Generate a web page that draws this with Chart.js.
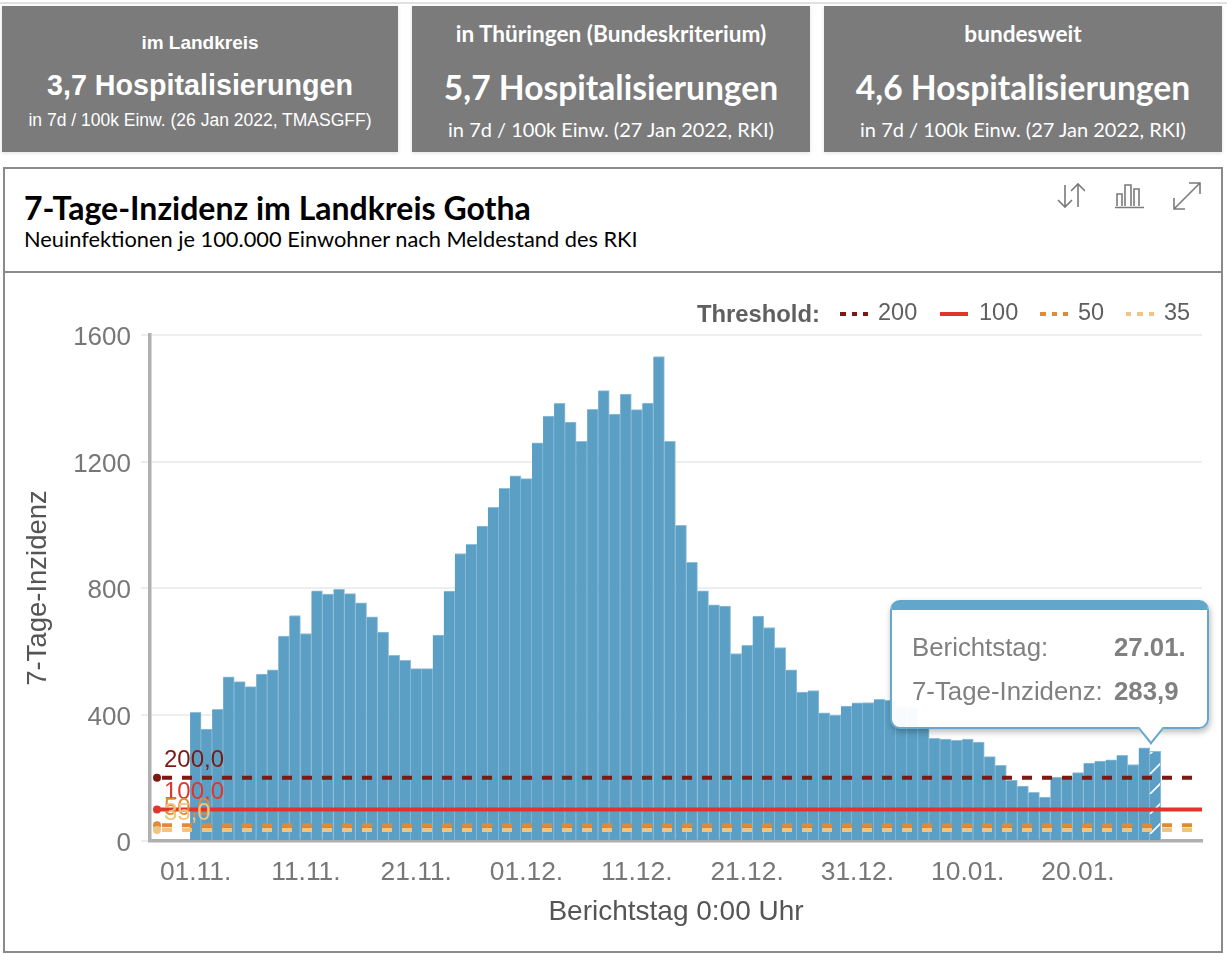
<!DOCTYPE html>
<html lang="de">
<head>
<meta charset="utf-8">
<title>7-Tage-Inzidenz im Landkreis Gotha</title>
<script src="https://cdn.jsdelivr.net/npm/chart.js@4"></script>
<style>
*{box-sizing:border-box}
html,body{margin:0;padding:0;background:#fff;width:1227px;height:954px;overflow:hidden}
#topline{position:absolute;left:0;top:2px;width:1227px;height:2px;background:#e0e0e0}
.card{position:absolute;top:6px;height:146px;background:#7b7b7b;color:#fff;text-align:center;box-shadow:0 1px 4px rgba(0,0,0,.12)}
.card div{position:absolute;left:0;right:0;white-space:nowrap;line-height:1}
.a{font-family:"Liberation Sans",Arial,sans-serif}
.l{font-family:Lato,sans-serif}
#panel{position:absolute;left:3px;top:167px;width:1220px;height:786px;border:2px solid #8a8a8a;background:#fff}
#sep{position:absolute;left:3px;top:271px;width:1220px;height:2px;background:#8a8a8a}
#title{position:absolute;left:24px;top:191px;font:700 32px/34px Lato,sans-serif;color:#000;white-space:nowrap}
#sub{position:absolute;left:24px;top:227px;font:400 21.8px/24px Lato,sans-serif;color:#000;white-space:nowrap}
svg.ic{position:absolute;fill:none;stroke:#7a7a7a;stroke-width:1.6}
#wrap{position:absolute;left:5px;top:274px;width:1216px;height:676px}
#legend span,#legend i{position:absolute;font-family:"Liberation Sans",Arial,sans-serif;font-style:normal;white-space:nowrap}
#legend span{top:299px;font-size:23.5px;line-height:27px;color:#5f5f5f}
#legend i{top:312px;height:3.5px;width:28px}
#tip{position:absolute;left:890px;top:600px;width:319px;height:129px;background:rgba(255,255,255,.96);border:2px solid #64a8cb;border-top:10px solid #62a6c9;border-radius:10px;box-shadow:1px 3px 6px rgba(0,0,0,.28)}
#arrow{position:absolute;left:1141px;top:719px;width:20px;height:20px;background:#fff;border-right:2px solid #64a8cb;border-bottom:2px solid #64a8cb;transform:rotate(45deg) skew(6deg,6deg)}
.t{position:absolute;font-family:"Liberation Sans",Arial,sans-serif;font-size:25.8px;line-height:28px;color:#808080;white-space:nowrap}
.t b{font-weight:700}
</style>
</head>
<body>
<div id="topline"></div>
<div class="card a" style="left:2px;width:396px">
  <div style="top:27px;font-size:19px;font-weight:700">im Landkreis</div>
  <div style="top:65px;font-size:28.7px;font-weight:700">3,7 Hospitalisierungen</div>
  <div style="top:106px;font-size:17.5px">in 7d / 100k Einw. (26 Jan 2022, TMASGFF)</div>
</div>
<div class="card l" style="left:412px;width:398px">
  <div style="top:17px;font-size:22.6px;font-weight:700">in Thüringen (Bundeskriterium)</div>
  <div style="top:65px;font-size:33.6px;font-weight:700">5,7 Hospitalisierungen</div>
  <div style="top:113px;font-size:20px">in 7d / 100k Einw. (27 Jan 2022, RKI)</div>
</div>
<div class="card l" style="left:824px;width:398px">
  <div style="top:17px;font-size:22.6px;font-weight:700">bundesweit</div>
  <div style="top:65px;font-size:33.6px;font-weight:700">4,6 Hospitalisierungen</div>
  <div style="top:113px;font-size:20px">in 7d / 100k Einw. (27 Jan 2022, RKI)</div>
</div>
<div id="panel"></div>
<div id="sep"></div>
<div id="title">7-Tage-Inzidenz im Landkreis Gotha</div>
<div id="sub">Neuinfektionen je 100.000 Einwohner nach Meldestand des RKI</div>
<svg class="ic" style="left:1056px;top:182px" width="32" height="28" viewBox="0 0 32 28"><path d="M9 3V25M2 18L9 25L16 18M22 25V2M15 9L22 2L29 9"/></svg>
<svg class="ic" style="left:1113px;top:182px" width="32" height="28" viewBox="0 0 32 28"><path d="M2 25.5H31M4 24V12H9V24M12 24V3H18V24M21 24V7H26V24"/></svg>
<svg class="ic" style="left:1172px;top:181px" width="30" height="30" viewBox="0 0 30 30"><path d="M2 28L28 2M17 2H28V13M2 17V28H13"/></svg>
<div id="wrap"><canvas id="c" width="1216" height="676"></canvas></div>
<div id="legend">
  <span style="left:697px;font-weight:700;top:300px;font-size:23.8px">Threshold:</span>
  <i style="left:840px;background:repeating-linear-gradient(90deg,#7b1a13 0 5.5px,transparent 5.5px 11.5px)"></i>
  <span style="left:878px">200</span>
  <i style="left:940px;background:#e0352b"></i>
  <span style="left:979px">100</span>
  <i style="left:1040px;background:repeating-linear-gradient(90deg,#e08a38 0 5.5px,transparent 5.5px 11.5px)"></i>
  <span style="left:1078px">50</span>
  <i style="left:1126px;background:repeating-linear-gradient(90deg,#efc583 0 5.5px,transparent 5.5px 11.5px)"></i>
  <span style="left:1164px">35</span>
</div>
<div id="tip"></div>
<div id="arrow"></div>
<div class="t" style="left:912px;top:633px">Berichtstag:</div>
<div class="t" style="left:1114px;top:633px"><b id="tipDay"></b></div>
<div class="t" style="left:912px;top:677px">7-Tage-Inzidenz:</div>
<div class="t" style="left:1114px;top:677px"><b id="tipVal"></b></div>
<script>
const categories = [
 "01.11.","02.11.","03.11.","04.11.","05.11.","06.11.","07.11.","08.11.","09.11.","10.11.",
 "11.11.","12.11.","13.11.","14.11.","15.11.","16.11.","17.11.","18.11.","19.11.","20.11.",
 "21.11.","22.11.","23.11.","24.11.","25.11.","26.11.","27.11.","28.11.","29.11.","30.11.",
 "01.12.","02.12.","03.12.","04.12.","05.12.","06.12.","07.12.","08.12.","09.12.","10.12.",
 "11.12.","12.12.","13.12.","14.12.","15.12.","16.12.","17.12.","18.12.","19.12.","20.12.",
 "21.12.","22.12.","23.12.","24.12.","25.12.","26.12.","27.12.","28.12.","29.12.","30.12.",
 "31.12.","01.01.","02.01.","03.01.","04.01.","05.01.","06.01.","07.01.","08.01.","09.01.",
 "10.01.","11.01.","12.01.","13.01.","14.01.","15.01.","16.01.","17.01.","18.01.","19.01.",
 "20.01.","21.01.","22.01.","23.01.","24.01.","25.01.","26.01.","27.01."];
const incidence = [
 407,354,416,519,504,488,528,541,648,713,
 656,791,781,796,782,753,709,661,587,571,
 545,545,651,790,909,938,996,1055,1115,1155,
 1146,1259,1344,1384,1325,1264,1365,1424,1350,1413,
 1364,1385,1532,1264,998,881,791,747,743,593,
 619,711,675,612,541,471,476,405,398,427,
 437,438,448,445,427,423,362,325,322,318,
 322,313,267,239,192,174,154,139,202,202,
 216,246,253,257,271,242,295,283.9];
const thresholds = [200,100,50,35];
const thresholdColors = ["#7b1a13","#e0352b","#e08a38","#efc583"];
const thresholdDashes = [[10,10],[],[10,10],[10,10]];
const lineStart = -3.5, lineEnd = 95;
const yTicksMax = 1600, yStep = 400;
const BAR = "#5b9fc4";

const fmt = v => v.toFixed(1).replace(".",",");
document.getElementById("tipDay").textContent = categories[categories.length-1];
document.getElementById("tipVal").textContent = fmt(incidence[incidence.length-1]);

function hatch(){
  const p = document.createElement("canvas"); p.width = 20; p.height = 20;
  const g = p.getContext("2d");
  g.fillStyle = BAR; g.fillRect(0,0,20,20);
  g.strokeStyle = "#fff"; g.lineWidth = 1.6;
  g.beginPath(); g.moveTo(-2,6); g.lineTo(6,-2); g.moveTo(3,22); g.lineTo(22,3); g.stroke();
  return document.getElementById("c").getContext("2d").createPattern(p,"repeat");
}
const barFill = incidence.map((_,i)=> i===incidence.length-1 ? hatch() : BAR);

const thresholdLabels = {
  id:"thresholdLabels",
  beforeDraw(chart){
    const s = chart.scales.y;
    s.getLabelItems(chart.chartArea).forEach(it=>{
      if(!it.shifted){ it.options.translation[1] += 3; it.shifted = true; }
    });
  },
  afterDatasetsDraw(chart){
    const {ctx,scales:{x,y}} = chart;
    ctx.save();
    ctx.font = '24px "Liberation Sans",Arial,sans-serif';
    ctx.textBaseline = "middle"; ctx.textAlign = "left";
    thresholds.forEach((t,i)=>{
      ctx.fillStyle = thresholdColors[i];
      ctx.fillText(fmt(t), x.getPixelForValue(lineStart)+7, y.getPixelForValue(t)-17);
    });
    ctx.restore();
  }
};

new Chart(document.getElementById("c"),{
  type:"bar",
  data:{
    datasets:[
      {type:"bar",order:10,label:"7-Tage-Inzidenz",
       data:incidence.map((v,i)=>({x:i,y:v})),
       backgroundColor:barFill,borderColor:"#8fbfdb",
       borderWidth:{top:1,right:1,left:0,bottom:0},borderSkipped:"bottom",
       barPercentage:1,categoryPercentage:1},
      ...thresholds.map((t,i)=>({
        type:"line",order:4-i,label:String(t),
        data:[{x:lineStart,y:t},{x:lineEnd,y:t}],
        borderColor:thresholdColors[i],backgroundColor:thresholdColors[i],
        borderWidth:4,borderDash:thresholdDashes[i],borderDashOffset:thresholdDashes[i].length?15:0,
        pointRadius:[4,0],pointBorderWidth:0,tension:0,fill:false
      }))
    ]
  },
  options:{
    responsive:false,animation:false,
    events:[],
    layout:{padding:{left:0,right:19,top:61,bottom:0}},
    plugins:{legend:{display:false},tooltip:{enabled:false}},
    scales:{
      x:{type:"linear",offset:false,min:-4.134,max:91.24,
        afterFit(s){s.height=109;},
        grid:{display:false,drawTicks:false,offset:false},
        border:{display:true,color:"#b0b0b0",width:3.5},
        ticks:{stepSize:10,includeBounds:false,maxRotation:0,autoSkip:false,padding:16,
          font:{family:"'Liberation Sans',Arial,sans-serif",size:26.4},color:"#777",
          callback:v=>categories[v]||""},
        title:{display:true,text:"Berichtstag 0:00 Uhr",padding:{top:0,bottom:21},
          font:{family:"'Liberation Sans',Arial,sans-serif",size:28},color:"#555"}
      },
      y:{min:0,max:yTicksMax,
        afterFit(s){s.width=145;},
        grid:{color:"#eeeeee",lineWidth:2,tickLength:9},
        border:{display:true,color:"#b0b0b0",width:3.5},
        ticks:{stepSize:yStep,padding:10,
          font:{family:"'Liberation Sans',Arial,sans-serif",size:26},color:"#777",
          callback:v=>String(v)},
        title:{display:true,text:"7-Tage-Inzidenz",padding:{top:16.5,bottom:0},
          font:{family:"'Liberation Sans',Arial,sans-serif",size:27.5},color:"#555"}
      }
    }
  },
  plugins:[thresholdLabels]
});
</script>
</body>
</html>
